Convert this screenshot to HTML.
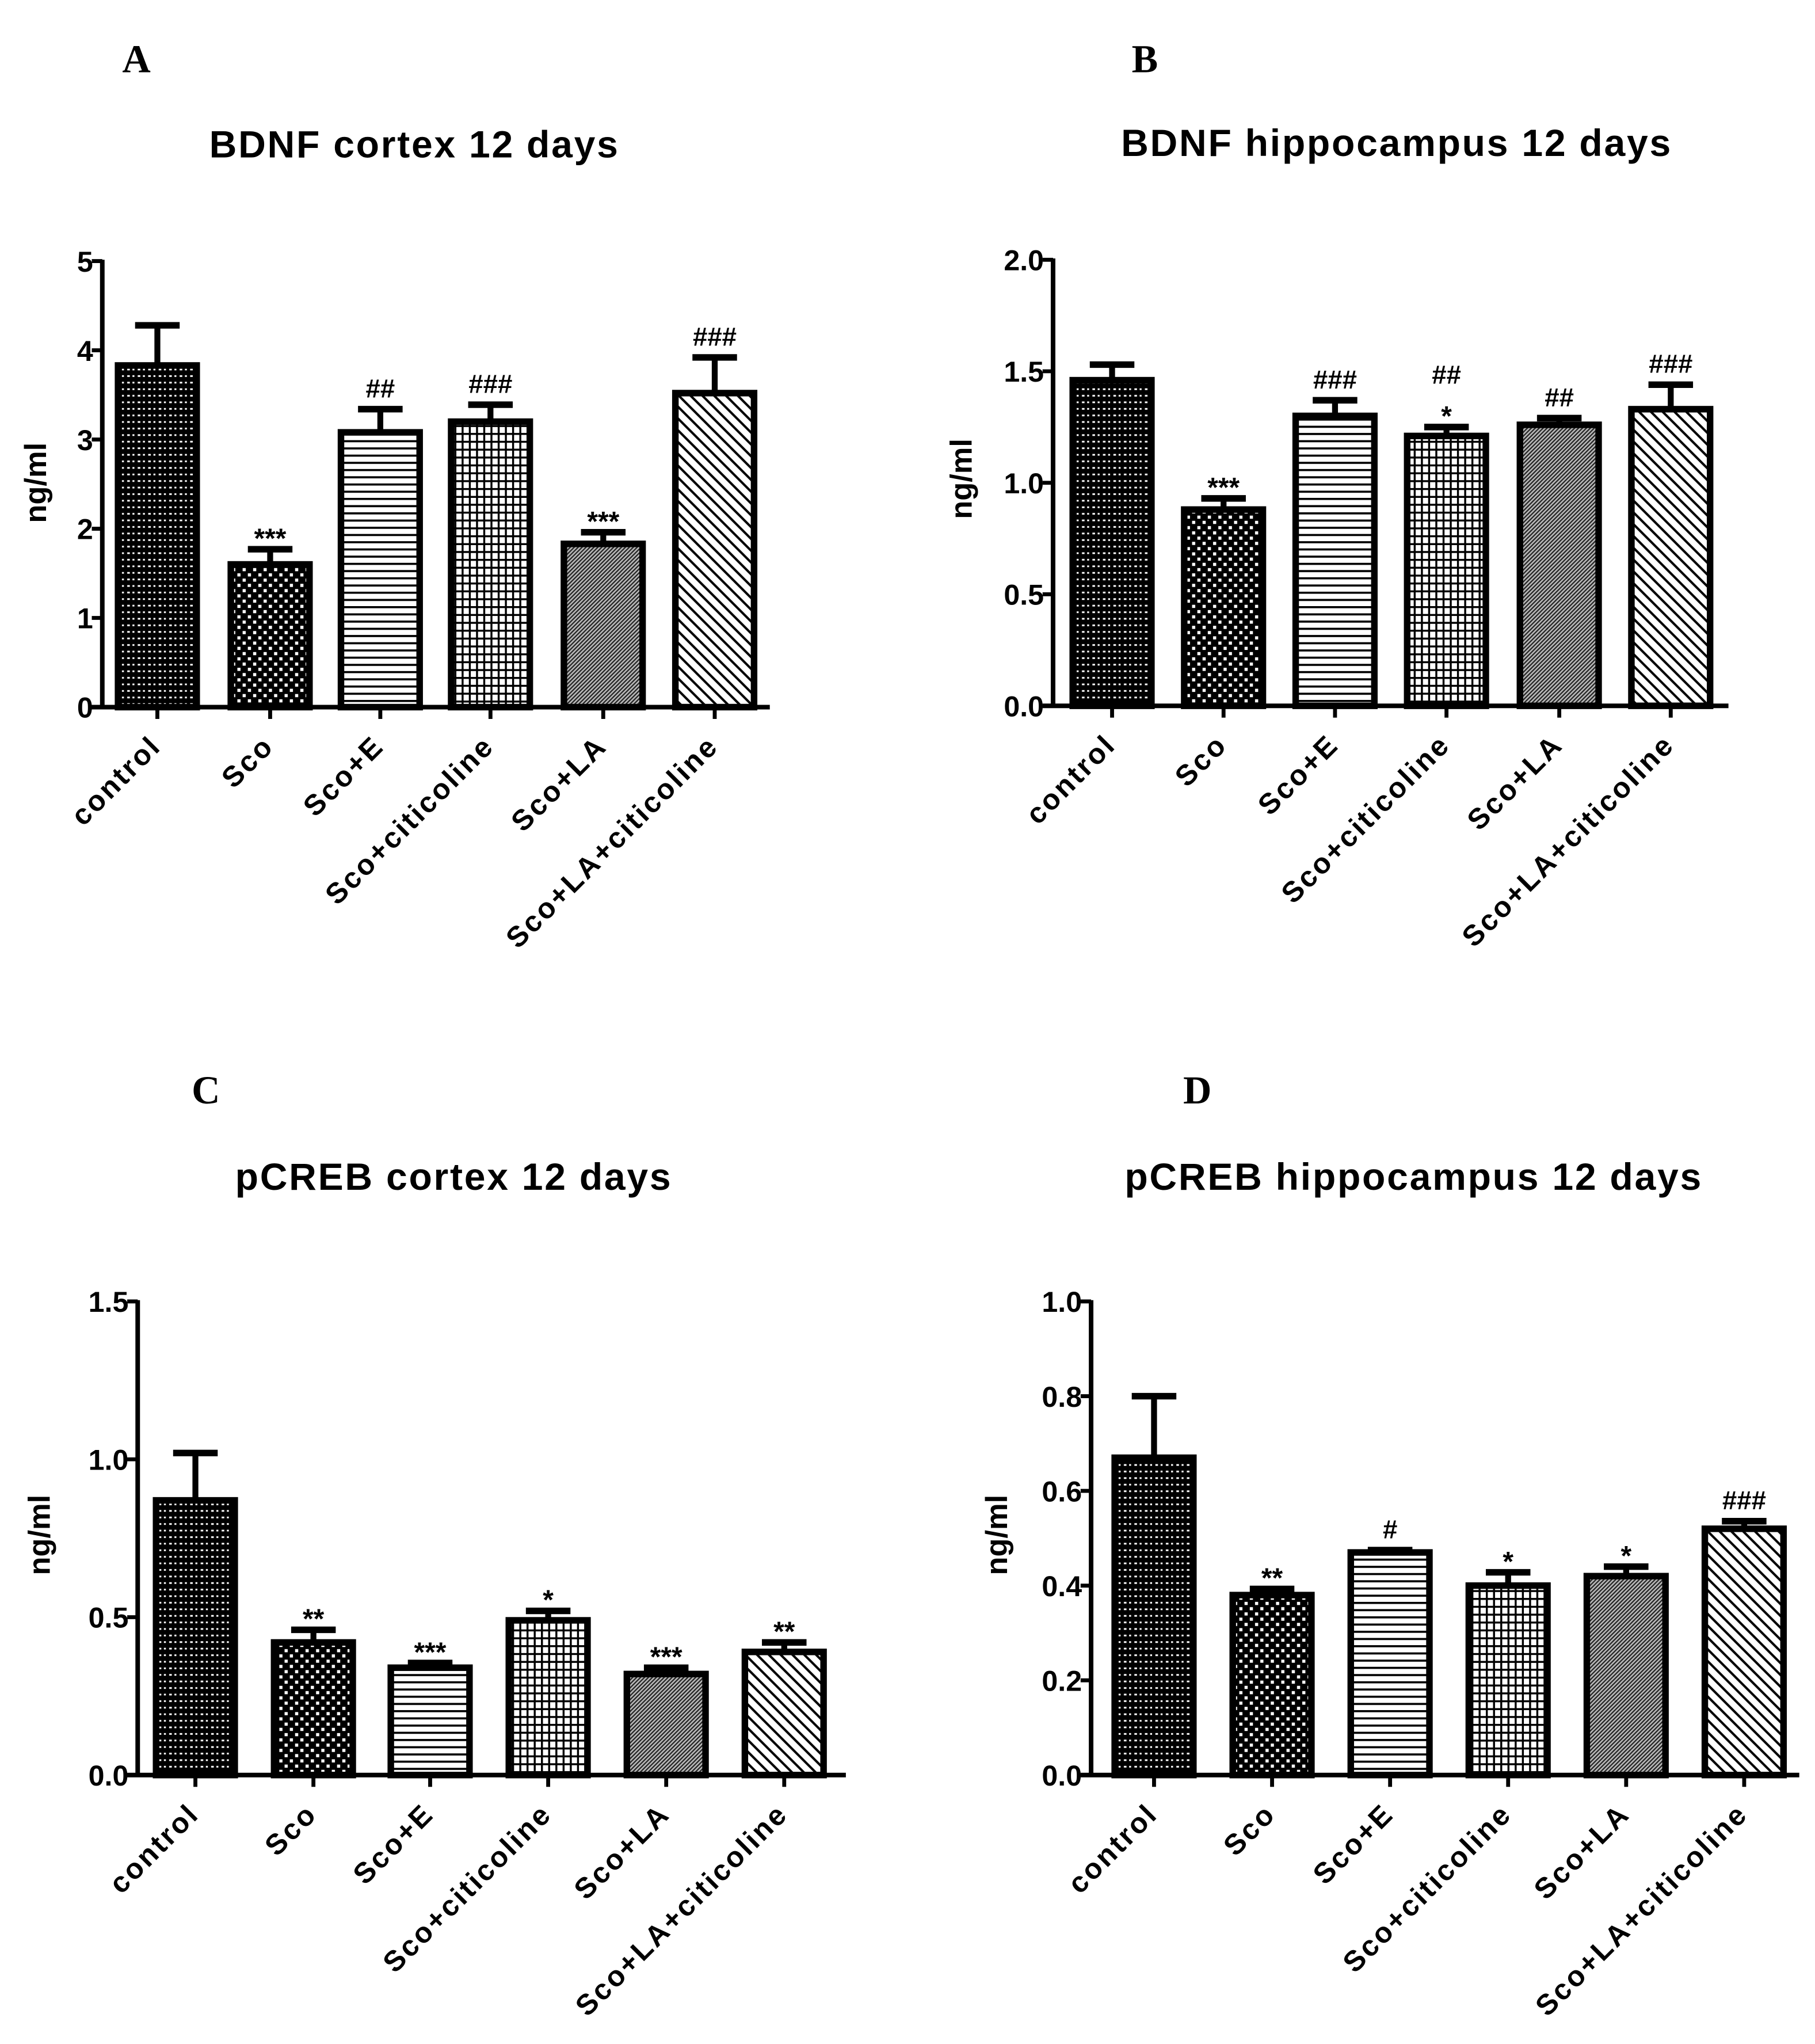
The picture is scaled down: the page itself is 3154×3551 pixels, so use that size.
<!DOCTYPE html>
<html><head><meta charset="utf-8">
<style>
html,body{margin:0;padding:0;background:#fff;}
svg{display:block;}
text{font-family:"Liberation Sans",Arial,sans-serif;font-weight:bold;fill:#000;}
.letter{font-family:"Liberation Serif",serif;font-weight:bold;font-size:30px;}
</style></head>
<body>
<svg id="fig" width="3154" height="3551" viewBox="0 0 1384 1558" preserveAspectRatio="none" xmlns="http://www.w3.org/2000/svg">
<defs>
<pattern id="p0" patternUnits="userSpaceOnUse" width="8" height="5"><rect width="8" height="5" fill="#000"/><rect x="1" y="1" width="2" height="1.3" fill="#fff"/><rect x="5" y="1" width="1.5" height="1.3" fill="#fff"/></pattern>
<pattern id="p1" patternUnits="userSpaceOnUse" width="8" height="8"><rect width="8" height="8" fill="#000"/><rect x="1" y="1" width="2.4" height="2.4" fill="#fff"/><rect x="5" y="5" width="2.4" height="2.4" fill="#fff"/></pattern>
<pattern id="p2" patternUnits="userSpaceOnUse" width="8" height="5.5"><rect width="8" height="5.5" fill="#fff"/><rect y="0" width="8" height="1.6" fill="#000"/></pattern>
<pattern id="p3" patternUnits="userSpaceOnUse" width="5.5" height="6"><rect width="5.5" height="6" fill="#fff"/><rect width="5.5" height="1.5" fill="#000"/><rect width="1.5" height="6" fill="#000"/></pattern>
<pattern id="p4" patternUnits="userSpaceOnUse" width="3" height="3"><rect width="3" height="3" fill="#bbb"/><path d="M0,3 L3,0 M-1,1 L1,-1 M2,4 L4,2" stroke="#222" stroke-width="1"/></pattern>
<pattern id="p5" patternUnits="userSpaceOnUse" width="9" height="9"><rect width="9" height="9" fill="#fff"/><path d="M0,0 L9,9 M-9,0 L9,18 M0,-9 L18,9" stroke="#000" stroke-width="1.8"/></pattern>
</defs>
</svg>
<script>
const categories = ["control","Sco","Sco+E","Sco+citicoline","Sco+LA","Sco+LA+citicoline"];
const aValues = [3.83,1.60,3.08,3.20,1.83,3.52];
const aErrors = [0.45,0.17,0.26,0.19,0.13,0.40];
const aMarks = ["","***","##","###","***","###"];
const aTicks = ["0","1","2","3","4","5"];
const bValues = [1.46,0.88,1.30,1.21,1.26,1.33];
const bErrors = [0.07,0.05,0.07,0.04,0.03,0.11];
const bMarks = ["","***","###","##|*","##","###"];
const bTicks = ["0.0","0.5","1.0","1.5","2.0"];
const cValues = [0.87,0.42,0.34,0.49,0.32,0.39];
const cErrors = [0.15,0.04,0.015,0.03,0.02,0.03];
const cMarks = ["","**","***","*","***","**"];
const cTicks = ["0.0","0.5","1.0","1.5"];
const dValues = [0.67,0.38,0.47,0.40,0.42,0.52];
const dErrors = [0.13,0.013,0.005,0.028,0.02,0.016];
const dMarks = ["","**","#","*","*","###"];
const dTicks = ["0.0","0.2","0.4","0.6","0.8","1.0"];

const NS="http://www.w3.org/2000/svg";
const svg=document.getElementById('fig');
function mk(tag,attrs,parent){const e=document.createElementNS(NS,tag);for(const k in attrs)e.setAttribute(k,attrs[k]);(parent||svg).appendChild(e);return e;}

const panels=[
 {id:'a',letter:'A',lx:104,ly:55,title:'BDNF cortex 12 days',tx:316,ty:120,ax:78,top:199,bot:539,xend:587,max:5,centers:[120,206,290,374,460,545],vals:aValues,errs:aErrors,marks:aMarks,ticks:aTicks,ylx:27,yly:368},
 {id:'b',letter:'B',lx:873,ly:55,title:'BDNF hippocampus 12 days',tx:1065,ty:119,ax:803,top:198,bot:538,xend:1318,max:2,centers:[848,933,1018,1103,1189,1274],vals:bValues,errs:bErrors,marks:bMarks,ticks:bTicks,ylx:733,yly:365},
 {id:'c',letter:'C',lx:157,ly:841,title:'pCREB cortex 12 days',tx:346,ty:907,ax:105,top:992,bot:1353,xend:645,max:1.5,centers:[149,239,328,418,508,598],vals:cValues,errs:cErrors,marks:cMarks,ticks:cTicks,ylx:30,yly:1170},
 {id:'d',letter:'D',lx:913,ly:841,title:'pCREB hippocampus 12 days',tx:1078,ty:907,ax:832,top:992,bot:1353,xend:1372,max:1,centers:[880,970,1060,1150,1240,1330],vals:dValues,errs:dErrors,marks:dMarks,ticks:dTicks,ylx:760,yly:1170}
];
panels.forEach(p=>{
 const g=mk('g',{});
 
 
 const y=v=>p.bot-(v/p.max)*(p.bot-p.top);
 const L=mk('text',{x:p.lx,y:p.ly,'text-anchor':'middle',class:'letter'},g);L.textContent=p.letter;
 
 
 const T=mk('text',{x:p.tx,y:p.ty,'text-anchor':'middle','font-size':'29','letter-spacing':'1.2'},g);T.textContent=p.title;
 
 
 const Y=mk('text',{x:0,y:0,'text-anchor':'middle','font-size':'23',transform:`translate(${p.ylx+8},${p.yly}) rotate(-90)`},g);Y.textContent='ng/ml';
 
 
 p.vals.forEach((v,i)=>{
  const cx=p.centers[i],w=60,top=y(v),cap=y(v+p.errs[i]);
  const eb=mk('line',{x1:cx,x2:cx,y1:top,y2:cap,stroke:'#000','stroke-width':4.5},g);
  
  
  const ec=mk('line',{x1:cx-17,x2:cx+17,y1:cap,y2:cap,stroke:'#000','stroke-width':5},g);
  
  
  const r=mk('rect',{x:cx-w/2,y:top,width:w,height:p.bot-top,fill:`url(#p${i})`,stroke:'#000','stroke-width':5},g);
  
  
  const parts=p.marks[i]?p.marks[i].split('|'):[];
  parts.forEach((m,k)=>{
   const t=mk('text',{x:cx,y:cap-9-(parts.length-1-k)*24+(m.indexOf('*')>=0?8:0),'text-anchor':'middle','font-size':m.indexOf('*')>=0?'21':'20','font-weight':'normal',fill:'#222'},g);t.textContent=m;
   
   
  });
  const tk=mk('line',{x1:cx,x2:cx,y1:p.bot,y2:p.bot+9,stroke:'#000','stroke-width':3},g);
  
  
  const xl=mk('text',{x:0,y:0,'text-anchor':'end','font-size':'22','letter-spacing':'1.6',transform:`translate(${cx+4},${p.bot+31}) rotate(-45)`},g);xl.textContent=categories[i];
  
  
 });
 const ya=mk('line',{x1:p.ax,x2:p.ax,y1:p.top-1,y2:p.bot+1.5,stroke:'#000','stroke-width':3.5},g);
 
 
 const xa=mk('line',{x1:p.ax-8,x2:p.xend,y1:p.bot,y2:p.bot,stroke:'#000','stroke-width':3.5},g);
 
 
 p.ticks.forEach(s=>{
  const v=parseFloat(s),yy=y(v);
  const t=mk('line',{x1:p.ax-8,x2:p.ax,y1:yy,y2:yy,stroke:'#000','stroke-width':3},g);
  
  
  const tl=mk('text',{x:p.ax-7,y:yy+8,'text-anchor':'end','font-size':'22'},g);tl.textContent=s;
  
  
 });
});
</script>
</body></html>
